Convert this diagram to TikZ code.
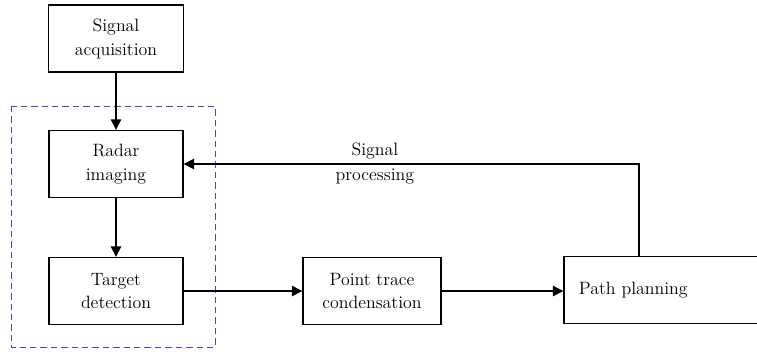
\documentclass[tikz,border=0pt]{standalone}
\usepackage{amssymb, amsmath}
\usetikzlibrary{arrows.meta}

\definecolor{dashblue}{RGB}{60,80,170}

\begin{document}
\begin{tikzpicture}[x=0.025cm, y=-0.025cm,
    block/.style={draw, line width=0.9pt, align=center, minimum height=1.675cm,
      inner sep=0pt, font=\fontsize{12.7}{17}\selectfont},
    link/.style={line width=0.75pt, -{Triangle[length=2.6mm, width=2.6mm]}},
    note/.style={font=\fontsize{12.7}{17}\selectfont}]
  \useasboundingbox (0, 0) rectangle (757, 351);

  % bloc du haut
  \node[block, minimum width=3.375cm] (acq) at (116, 38.5) {Signal\\acquisition};

  % groupe en pointillés
  \begin{scope}
    \draw[dashblue, line width=0.7pt, dash pattern=on 1.6mm off 1mm] (11, 106) rectangle (215, 347);
    \node[block, minimum width=3.35cm] (radar) at (116, 164) {Radar\\imaging};
    \node[block, minimum width=3.35cm] (detect) at (116, 291) {Target\\detection};
  \end{scope}

  % chaîne horizontale
  \node[block, minimum width=3.45cm] (trace) at (372, 291) {Point trace\\condensation};
  \node[block, text width=5cm, align=left, inner xsep=0.375cm,
    inner ysep=0pt] (plan) at (679, 290) {Path planning};
  \coordinate (turn) at (639, 164);

  % flèches
  \draw[link] (acq) -- (radar);
  \draw[link] (radar) -- (detect);
  \draw[link] (detect) -- (trace);
  \draw[link] (trace) -- (trace -| plan.west);

  % retour
  \draw[link] (plan.north -| turn) |- (radar.east)
    node[note, pos=0.79, above] {Signal}
    node[note, pos=0.79, below] {processing};
\end{tikzpicture}
\end{document}
